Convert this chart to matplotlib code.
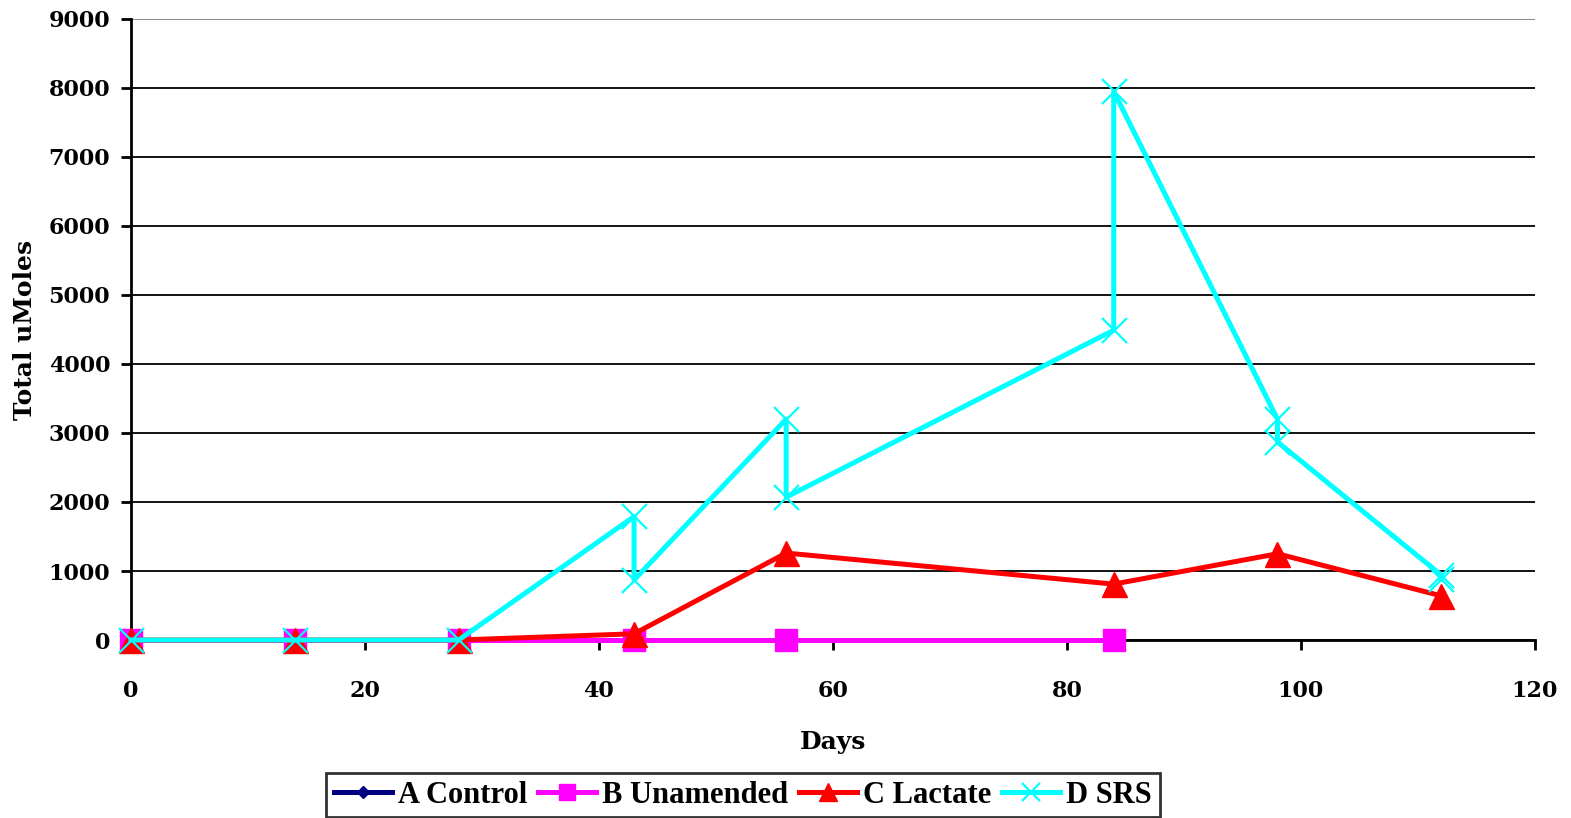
import matplotlib
matplotlib.use('Agg')
import matplotlib.pyplot as plt

# 数据
days_a = [0, 14, 28, 43, 56, 84]
control = [0, 0, 0, 0, 0, 0]

days_b = [0, 14, 28, 43, 56, 84]
unamended = [0, 0, 0, 0, 0, 0]

days_c = [0, 14, 28, 43, 56, 84, 98, 112]
lactate = [0, 0, 0, 90, 1260, 810, 1250, 640]

days_d = [0, 14, 28, 43, 43, 56, 56, 84, 84, 98, 98, 112, 112]
srs = [0, 0, 0, 1790, 870, 3200, 2070, 4490, 7950, 3200, 2870, 940, 880]

x_ticks = [0, 20, 40, 60, 80, 100, 120]
y_ticks = [0, 1000, 2000, 3000, 4000, 5000, 6000, 7000, 8000, 9000]

fig = plt.figure(figsize=(15.71, 8.18), dpi=100)
ax = fig.add_axes([0.0834, 0.2176, 0.8936, 0.7592])

ax.plot(days_a, control, color='#000080', linewidth=3.6, marker='D', markersize=9,
        label='A Control', zorder=3, clip_on=False)
ax.plot(days_b, unamended, color='#FF00FF', linewidth=3.6, marker='s', markersize=16,
        label='B Unamended', zorder=4, clip_on=False)
ax.plot(days_c, lactate, color='#FF0000', linewidth=3.6, marker='^', markersize=18,
        label='C Lactate', zorder=5, clip_on=False)
ax.plot(days_d, srs, color='#00FFFF', linewidth=3.6, marker='x', markersize=18,
        markeredgewidth=1.6, label='D SRS', zorder=6, clip_on=False)

ax.set_xlim(0, 120)
ax.set_ylim(0, 9000)
ax.set_xticks(x_ticks)
ax.set_yticks(y_ticks)

ax.yaxis.grid(True, color='black', linewidth=1.3)
ax.get_ygridlines()[-1].set_color('#808080')
ax.set_axisbelow(True)
ax.spines['top'].set_visible(False)
ax.spines['right'].set_visible(False)
ax.spines['left'].set_linewidth(2)
ax.spines['bottom'].set_linewidth(2)
ax.tick_params(axis='both', direction='out', width=2, length=7)
ax.tick_params(axis='x', pad=22)
ax.tick_params(axis='y', pad=8)

for lbl in ax.get_xticklabels() + ax.get_yticklabels():
    lbl.set_fontfamily('DejaVu Serif')
    lbl.set_fontweight('heavy')
    lbl.set_fontsize(16)

ax.set_xlabel('Days', fontfamily='DejaVu Serif', fontweight='bold', fontsize=18, labelpad=20)
ax.set_ylabel('Total uMoles', fontfamily='DejaVu Serif', fontweight='bold', fontsize=18, labelpad=8)

leg = ax.legend(loc='upper center', bbox_to_anchor=(0.436, -0.214), ncol=4,
                prop={'family': 'Liberation Serif', 'weight': 'bold', 'size': 22},
                frameon=True, fancybox=False, edgecolor='black', markerscale=0.7,
                handlelength=1.9, handletextpad=0.2, columnspacing=0.35,
                borderpad=0.25, borderaxespad=0)
leg.get_frame().set_linewidth(2)

fig.savefig('out.png', dpi=100)
